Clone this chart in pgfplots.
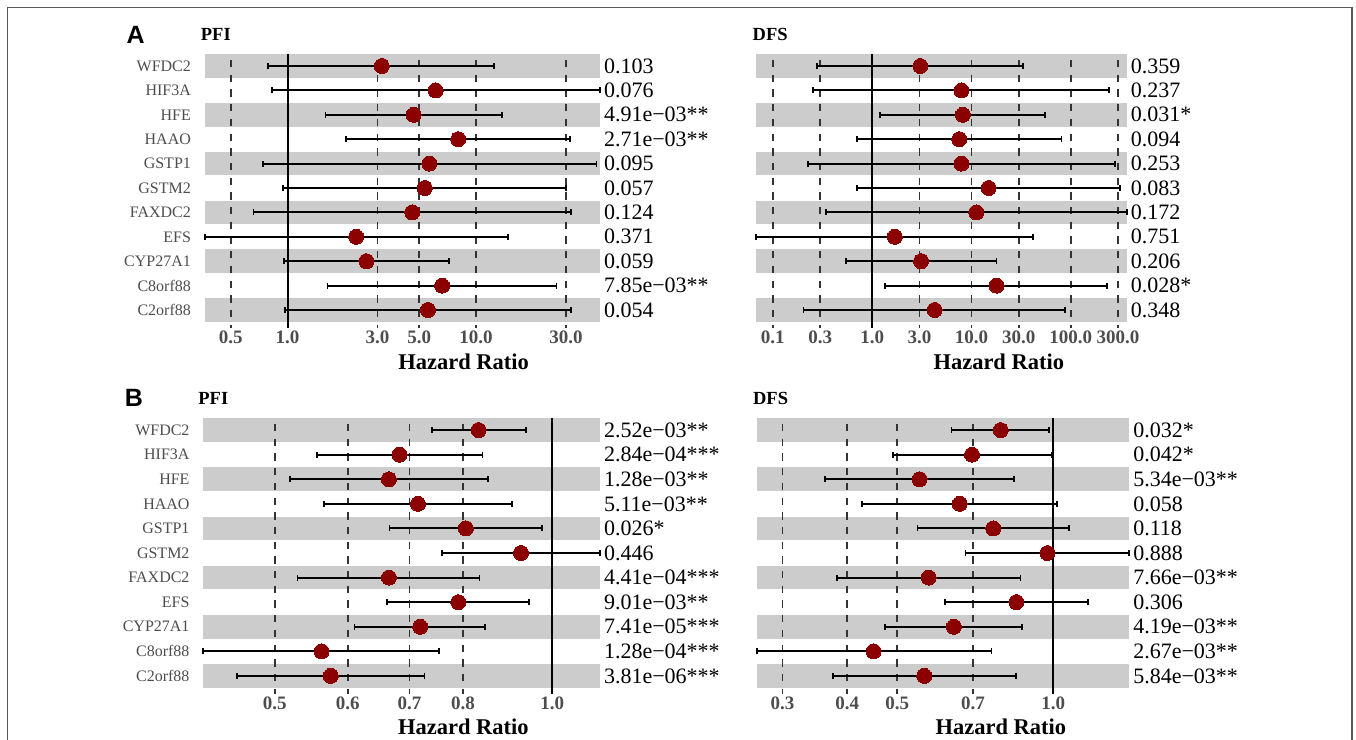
\documentclass[border=0pt]{standalone}
\usepackage{pgfplots}
\pgfplotsset{compat=1.18}
\usepackage{pgfplotstable}
\usepackage{fontspec}
\setmainfont{Liberation Serif}
\newfontfamily\lsans{Liberation Sans}

\definecolor{bandgray}{HTML}{CCCCCC}
\definecolor{hrred}{HTML}{8B0000}
\definecolor{labgray}{HTML}{4D4D4D}
\definecolor{gridgray}{HTML}{333333}
\definecolor{framegray}{HTML}{5A5A5A}

\newcommand{\genefont}{\fontsize{16bp}{18bp}\selectfont}
\newcommand{\tickfont}{\fontsize{19bp}{21bp}\selectfont\bfseries}
\newcommand{\pfont}{\fontsize{22bp}{24bp}\selectfont}
\newcommand{\labfont}{\fontsize{22.5bp}{25bp}\selectfont\bfseries}
\newcommand{\titfont}{\fontsize{18.5bp}{21bp}\selectfont\bfseries}
\newcommand{\letfont}{\fontsize{25bp}{27bp}\selectfont\lsans\bfseries}

% row: 11 = WFDC2 (top) ... 1 = C2orf88 (bottom)
\pgfplotstableread{
row hr lo hi
11 3.16 0.79 12.5
10 6.1 0.83 45.4
9 4.66 1.59 13.7
8 8.04 2.05 31.5
7 5.65 0.74 43.5
6 5.34 0.95 30
5 4.58 0.66 32
4 2.31 0.363 14.7
3 2.62 0.96 7.2
2 6.6 1.63 26.7
1 5.55 0.97 32
}\tApfi

\pgfplotstableread{
row hr lo hi
11 3.06 0.279 33.2
10 7.93 0.255 243
9 8.2 1.19 55
8 7.55 0.706 80.6
7 7.93 0.225 279
6 14.9 0.706 311
5 11.2 0.346 367
4 1.69 0.0677 41.6
3 3.11 0.542 17.9
2 17.9 1.35 233
1 4.26 0.204 87.5
}\tAdfs

\pgfplotstableread{
row hr lo hi
11 0.832 0.740 0.936
10 0.683 0.556 0.840
9 0.665 0.519 0.852
8 0.715 0.565 0.904
7 0.806 0.666 0.974
6 0.925 0.759 1.127
5 0.665 0.529 0.834
4 0.791 0.662 0.943
3 0.719 0.610 0.846
2 0.562 0.418 0.754
1 0.575 0.4545 0.727
}\tBpfi

\pgfplotstableread{
row hr lo hi
11 0.792 0.636 0.983
10 0.697 0.491 0.994
9 0.552 0.362 0.841
8 0.660 0.428 1.018
7 0.766 0.547 1.073
6 0.975 0.677 1.403
5 0.575 0.382 0.865
4 0.849 0.618 1.167
3 0.643 0.474 0.871
2 0.450 0.268 0.760
1 0.5636 0.375 0.848
}\tBdfs

\tikzset{
  pnode/.style={anchor=west, inner sep=0pt, xshift=3.8bp, font=\pfont},
  gridA/.style={draw=gridgray, line width=1.8bp, dash pattern=on 7.3bp off 7.4bp, dash phase=9bp},
  oneline/.style={draw=black, line width=2bp},
}

\begin{document}
\begin{tikzpicture}
\useasboundingbox (0,0) rectangle (1356bp,-740bp);
\draw[framegray, line width=1.5bp] (7.5bp,-740bp) -- (7.5bp,-7.5bp) -- (1352bp,-7.5bp) -- (1352bp,-740bp);

% ---------------- A : PFI ----------------
\begin{axis}[scale only axis, anchor=north west, xmode=log,
    ymin=0.52, ymax=11.48, clip=false,
    axis line style={draw=none}, major tick length=0pt, minor tick length=0pt,
    ytick={1,2,3,4,5,6,7,8,9,10,11},
    yticklabels={C2orf88,C8orf88,CYP27A1,EFS,FAXDC2,GSTM2,GSTP1,HAAO,HFE,HIF3A,WFDC2},
    yticklabel style={font=\genefont, text=labgray, anchor=east, inner sep=0pt, xshift=-13.5bp},
    xticklabel style={font=\tickfont, text=labgray, anchor=center, inner sep=0pt, yshift=-16bp},
  at={(204.6bp,-54.3bp)}, width=395.4bp, height=267.4bp,
  xmin=0.363, xmax=45.4,
  xtick={0.5,1,3,5,10,30}, xticklabels={0.5,1.0,3.0,5.0,10.0,30.0}]
\fill[bandgray] (axis cs:0.363,0.52) rectangle (axis cs:45.4,1.48);
\fill[bandgray] (axis cs:0.363,2.52) rectangle (axis cs:45.4,3.48);
\fill[bandgray] (axis cs:0.363,4.52) rectangle (axis cs:45.4,5.48);
\fill[bandgray] (axis cs:0.363,6.52) rectangle (axis cs:45.4,7.48);
\fill[bandgray] (axis cs:0.363,8.52) rectangle (axis cs:45.4,9.48);
\fill[bandgray] (axis cs:0.363,10.52) rectangle (axis cs:45.4,11.48);
\addplot[gridA] coordinates {(0.5,11.48) (0.5,0.28)};
\addplot[gridA] coordinates {(3,11.48) (3,0.28)};
\addplot[gridA] coordinates {(5,11.48) (5,0.28)};
\addplot[gridA] coordinates {(10,11.48) (10,0.28)};
\addplot[gridA] coordinates {(30,11.48) (30,0.28)};
\addplot[oneline] coordinates {(1,11.48) (1,0.28)};
\addplot[black, line width=2bp, only marks, mark=none,
    error bars/.cd, x dir=both, x explicit,
    error bar style={black, line width=2bp, solid},
    error mark options={black, line width=1.8bp, mark size=3bp, rotate=90}]
  table[x=hr, y=row, x error plus expr=\thisrow{hi}-\thisrow{hr}, x error minus expr=\thisrow{hr}-\thisrow{lo}] {\tApfi};
\addplot[only marks, mark=*, mark size=7.5bp, mark options={fill=hrred, draw=hrred, line width=0pt}] table[x=hr, y=row] {\tApfi};
\node[pnode] at (axis cs:45.4,11) {0.103};
\node[pnode] at (axis cs:45.4,10) {0.076};
\node[pnode] at (axis cs:45.4,9) {4.91e−03**};
\node[pnode] at (axis cs:45.4,8) {2.71e−03**};
\node[pnode] at (axis cs:45.4,7) {0.095};
\node[pnode] at (axis cs:45.4,6) {0.057};
\node[pnode] at (axis cs:45.4,5) {0.124};
\node[pnode] at (axis cs:45.4,4) {0.371};
\node[pnode] at (axis cs:45.4,3) {0.059};
\node[pnode] at (axis cs:45.4,2) {7.85e−03**};
\node[pnode] at (axis cs:45.4,1) {0.054};
\end{axis}

% ---------------- A : DFS ----------------
\begin{axis}[scale only axis, anchor=north west, xmode=log,
    ymin=0.52, ymax=11.48, clip=false,
    axis line style={draw=none}, major tick length=0pt, minor tick length=0pt,
    ytick={1,2,3,4,5,6,7,8,9,10,11}, yticklabels={},
    xticklabel style={font=\tickfont, text=labgray, anchor=center, inner sep=0pt, yshift=-16bp},
  at={(756bp,-54.3bp)}, width=370.8bp, height=267.4bp,
  xmin=0.0677, xmax=367,
  xtick={0.1,0.3,1,3,10,30,100,300}, xticklabels={0.1,0.3,1.0,3.0,10.0,30.0,100.0,300.0}]
\fill[bandgray] (axis cs:0.0677,0.52) rectangle (axis cs:367,1.48);
\fill[bandgray] (axis cs:0.0677,2.52) rectangle (axis cs:367,3.48);
\fill[bandgray] (axis cs:0.0677,4.52) rectangle (axis cs:367,5.48);
\fill[bandgray] (axis cs:0.0677,6.52) rectangle (axis cs:367,7.48);
\fill[bandgray] (axis cs:0.0677,8.52) rectangle (axis cs:367,9.48);
\fill[bandgray] (axis cs:0.0677,10.52) rectangle (axis cs:367,11.48);
\addplot[gridA] coordinates {(0.1,11.48) (0.1,0.28)};
\addplot[gridA] coordinates {(0.3,11.48) (0.3,0.28)};
\addplot[gridA] coordinates {(3,11.48) (3,0.28)};
\addplot[gridA] coordinates {(10,11.48) (10,0.28)};
\addplot[gridA] coordinates {(30,11.48) (30,0.28)};
\addplot[gridA] coordinates {(100,11.48) (100,0.28)};
\addplot[gridA] coordinates {(300,11.48) (300,0.28)};
\addplot[oneline] coordinates {(1,11.48) (1,0.28)};
\addplot[black, line width=2bp, only marks, mark=none,
    error bars/.cd, x dir=both, x explicit,
    error bar style={black, line width=2bp, solid},
    error mark options={black, line width=1.8bp, mark size=3bp, rotate=90}]
  table[x=hr, y=row, x error plus expr=\thisrow{hi}-\thisrow{hr}, x error minus expr=\thisrow{hr}-\thisrow{lo}] {\tAdfs};
\addplot[only marks, mark=*, mark size=7.5bp, mark options={fill=hrred, draw=hrred, line width=0pt}] table[x=hr, y=row] {\tAdfs};
\node[pnode] at (axis cs:367,11) {0.359};
\node[pnode] at (axis cs:367,10) {0.237};
\node[pnode] at (axis cs:367,9) {0.031*};
\node[pnode] at (axis cs:367,8) {0.094};
\node[pnode] at (axis cs:367,7) {0.253};
\node[pnode] at (axis cs:367,6) {0.083};
\node[pnode] at (axis cs:367,5) {0.172};
\node[pnode] at (axis cs:367,4) {0.751};
\node[pnode] at (axis cs:367,3) {0.206};
\node[pnode] at (axis cs:367,2) {0.028*};
\node[pnode] at (axis cs:367,1) {0.348};
\end{axis}

% ---------------- B : PFI ----------------
\begin{axis}[scale only axis, anchor=north west, xmode=log,
    ymin=0.52, ymax=11.48, clip=false,
    axis line style={draw=none}, major tick length=0pt, minor tick length=0pt,
    ytick={1,2,3,4,5,6,7,8,9,10,11},
    yticklabels={C2orf88,C8orf88,CYP27A1,EFS,FAXDC2,GSTM2,GSTP1,HAAO,HFE,HIF3A,WFDC2},
    yticklabel style={font=\genefont, text=labgray, anchor=east, inner sep=0pt, xshift=-13.5bp},
    xticklabel style={font=\tickfont, text=labgray, anchor=center, inner sep=0pt, yshift=-16bp},
  at={(203.2bp,-418.3bp)}, width=396.8bp, height=269.4bp,
  xmin=0.418, xmax=1.127,
  xtick={0.5,0.6,0.7,0.8,1}, xticklabels={0.5,0.6,0.7,0.8,1.0}]
\fill[bandgray] (axis cs:0.418,0.52) rectangle (axis cs:1.127,1.48);
\fill[bandgray] (axis cs:0.418,2.52) rectangle (axis cs:1.127,3.48);
\fill[bandgray] (axis cs:0.418,4.52) rectangle (axis cs:1.127,5.48);
\fill[bandgray] (axis cs:0.418,6.52) rectangle (axis cs:1.127,7.48);
\fill[bandgray] (axis cs:0.418,8.52) rectangle (axis cs:1.127,9.48);
\fill[bandgray] (axis cs:0.418,10.52) rectangle (axis cs:1.127,11.48);
\addplot[gridA] coordinates {(0.5,11.48) (0.5,0.28)};
\addplot[gridA] coordinates {(0.6,11.48) (0.6,0.28)};
\addplot[gridA] coordinates {(0.7,11.48) (0.7,0.28)};
\addplot[gridA] coordinates {(0.8,11.48) (0.8,0.28)};
\addplot[oneline] coordinates {(1,11.48) (1,0.28)};
\addplot[black, line width=2bp, only marks, mark=none,
    error bars/.cd, x dir=both, x explicit,
    error bar style={black, line width=2bp, solid},
    error mark options={black, line width=1.8bp, mark size=3bp, rotate=90}]
  table[x=hr, y=row, x error plus expr=\thisrow{hi}-\thisrow{hr}, x error minus expr=\thisrow{hr}-\thisrow{lo}] {\tBpfi};
\addplot[only marks, mark=*, mark size=7.5bp, mark options={fill=hrred, draw=hrred, line width=0pt}] table[x=hr, y=row] {\tBpfi};
\node[pnode] at (axis cs:1.127,11) {2.52e−03**};
\node[pnode] at (axis cs:1.127,10) {2.84e−04***};
\node[pnode] at (axis cs:1.127,9) {1.28e−03**};
\node[pnode] at (axis cs:1.127,8) {5.11e−03**};
\node[pnode] at (axis cs:1.127,7) {0.026*};
\node[pnode] at (axis cs:1.127,6) {0.446};
\node[pnode] at (axis cs:1.127,5) {4.41e−04***};
\node[pnode] at (axis cs:1.127,4) {9.01e−03**};
\node[pnode] at (axis cs:1.127,3) {7.41e−05***};
\node[pnode] at (axis cs:1.127,2) {1.28e−04***};
\node[pnode] at (axis cs:1.127,1) {3.81e−06***};
\end{axis}

% ---------------- B : DFS ----------------
\begin{axis}[scale only axis, anchor=north west, xmode=log,
    ymin=0.52, ymax=11.48, clip=false,
    axis line style={draw=none}, major tick length=0pt, minor tick length=0pt,
    ytick={1,2,3,4,5,6,7,8,9,10,11}, yticklabels={},
    xticklabel style={font=\tickfont, text=labgray, anchor=center, inner sep=0pt, yshift=-16bp},
  at={(757.1bp,-418.3bp)}, width=372.2bp, height=269.4bp,
  xmin=0.268, xmax=1.403,
  xtick={0.3,0.4,0.5,0.7,1}, xticklabels={0.3,0.4,0.5,0.7,1.0}]
\fill[bandgray] (axis cs:0.268,0.52) rectangle (axis cs:1.403,1.48);
\fill[bandgray] (axis cs:0.268,2.52) rectangle (axis cs:1.403,3.48);
\fill[bandgray] (axis cs:0.268,4.52) rectangle (axis cs:1.403,5.48);
\fill[bandgray] (axis cs:0.268,6.52) rectangle (axis cs:1.403,7.48);
\fill[bandgray] (axis cs:0.268,8.52) rectangle (axis cs:1.403,9.48);
\fill[bandgray] (axis cs:0.268,10.52) rectangle (axis cs:1.403,11.48);
\addplot[gridA] coordinates {(0.3,11.48) (0.3,0.28)};
\addplot[gridA] coordinates {(0.4,11.48) (0.4,0.28)};
\addplot[gridA] coordinates {(0.5,11.48) (0.5,0.28)};
\addplot[gridA] coordinates {(0.7,11.48) (0.7,0.28)};
\addplot[oneline] coordinates {(1,11.48) (1,0.28)};
\addplot[black, line width=2bp, only marks, mark=none,
    error bars/.cd, x dir=both, x explicit,
    error bar style={black, line width=2bp, solid},
    error mark options={black, line width=1.8bp, mark size=3bp, rotate=90}]
  table[x=hr, y=row, x error plus expr=\thisrow{hi}-\thisrow{hr}, x error minus expr=\thisrow{hr}-\thisrow{lo}] {\tBdfs};
\addplot[only marks, mark=*, mark size=7.5bp, mark options={fill=hrred, draw=hrred, line width=0pt}] table[x=hr, y=row] {\tBdfs};
\node[pnode] at (axis cs:1.403,11) {0.032*};
\node[pnode] at (axis cs:1.403,10) {0.042*};
\node[pnode] at (axis cs:1.403,9) {5.34e−03**};
\node[pnode] at (axis cs:1.403,8) {0.058};
\node[pnode] at (axis cs:1.403,7) {0.118};
\node[pnode] at (axis cs:1.403,6) {0.888};
\node[pnode] at (axis cs:1.403,5) {7.66e−03**};
\node[pnode] at (axis cs:1.403,4) {0.306};
\node[pnode] at (axis cs:1.403,3) {4.19e−03**};
\node[pnode] at (axis cs:1.403,2) {2.67e−03**};
\node[pnode] at (axis cs:1.403,1) {5.84e−03**};
\end{axis}

% ---------------- labels ----------------
\node[font=\letfont] at (135.7bp,-35.3bp) {A};
\node[font=\letfont] at (134bp,-398.3bp) {B};
\node[anchor=west, inner sep=0pt, font=\titfont] at (200.7bp,-34.5bp) {PFI};
\node[anchor=west, inner sep=0pt, font=\titfont] at (752.5bp,-34.5bp) {DFS};
\node[anchor=west, inner sep=0pt, font=\titfont] at (198.2bp,-398.3bp) {PFI};
\node[anchor=west, inner sep=0pt, font=\titfont] at (752.9bp,-398.3bp) {DFS};
\node[font=\labfont] at (463.6bp,-361.7bp) {Hazard Ratio};
\node[font=\labfont] at (998.8bp,-361.7bp) {Hazard Ratio};
\node[font=\labfont] at (463.4bp,-726.7bp) {Hazard Ratio};
\node[font=\labfont] at (1000.9bp,-726.7bp) {Hazard Ratio};
\end{tikzpicture}
\end{document}
